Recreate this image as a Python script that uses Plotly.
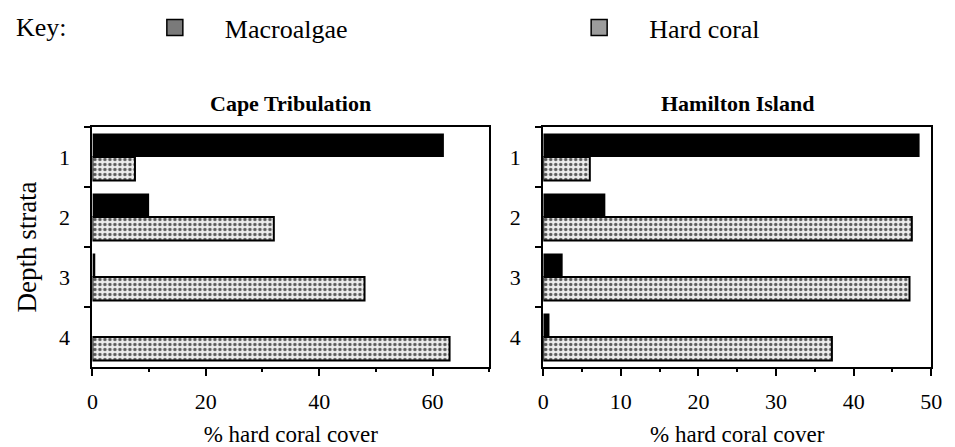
import plotly.graph_objects as go

# Depth strata (category labels, top to bottom)
depth_strata = ["1", "2", "3", "4"]

# Percent cover by site and stratum
cape_macroalgae = [62, 10, 0.5, 0]
cape_hard_coral = [7.5, 32, 48, 63]
hamilton_macroalgae = [48.5, 8, 2.5, 0.8]
hamilton_hard_coral = [6, 47.5, 47.2, 37.2]

site_titles = ["Cape Tribulation", "Hamilton Island"]
x_title = "% hard coral cover"
y_title = "Depth strata"

SERIF = "Liberation Serif"
INK = "black"

speckle = dict(shape=".", fgcolor="#5a5a5a", bgcolor="#ececec",
               size=5, solidity=0.35, fillmode="replace")

fig = go.Figure()


def add_site(macro, coral, xa, ya):
    fig.add_trace(go.Bar(
        y=depth_strata, x=macro, orientation="h", name="Macroalgae",
        marker=dict(color=INK, line=dict(width=0)),
        xaxis=xa, yaxis=ya, showlegend=False))
    fig.add_trace(go.Bar(
        y=depth_strata, x=coral, orientation="h", name="Hard coral",
        marker=dict(color="#ececec", pattern=speckle,
                    line=dict(color=INK, width=2)),
        xaxis=xa, yaxis=ya, showlegend=False))


add_site(cape_macroalgae, cape_hard_coral, "x", "y")
add_site(hamilton_macroalgae, hamilton_hard_coral, "x2", "y2")

# Key entries, one per legend box
fig.add_trace(go.Scatter(
    x=[None], y=[None], mode="markers", name="Macroalgae", legend="legend",
    marker=dict(symbol="square", size=16, color="#7a7a7a",
                line=dict(color=INK, width=1.5))))
fig.add_trace(go.Scatter(
    x=[None], y=[None], mode="markers", name="Hard coral", legend="legend2",
    marker=dict(symbol="square", size=16, color="#9c9c9c",
                line=dict(color=INK, width=1.5))))

W, H = 955, 447
left_dom = [88 / W, 492 / W]
right_dom = [547 / W, 942 / W]
y_dom = [(H - 367) / H, (H - 127) / H]

xaxis_common = dict(
    showline=True, linecolor=INK, linewidth=2, mirror=True,
    ticks="outside", ticklen=7, tickwidth=2, tickcolor=INK,
    showgrid=False, zeroline=False,
    tickfont=dict(family=SERIF, size=22, color=INK),
    ticklabelstandoff=7,
    title=dict(text=x_title, font=dict(family=SERIF, size=23, color=INK)),
)
yaxis_common = dict(
    type="category", categoryorder="array", categoryarray=depth_strata,
    autorange="reversed", domain=y_dom,
    showline=True, linecolor=INK, linewidth=2, mirror=True,
    ticks="outside", ticklen=6, tickwidth=2, tickcolor=INK,
    tickson="boundaries", showgrid=False, zeroline=False,
    tickfont=dict(family=SERIF, size=22, color=INK),
    ticklabelstandoff=16,
)

legend_common = dict(
    orientation="h", y=(H - 4) / H, xanchor="left", yanchor="top",
    xref="paper", yref="paper", itemwidth=90,
    font=dict(family=SERIF, size=26, color=INK),
    bgcolor="rgba(0,0,0,0)",
)

fig.update_layout(
    width=W, height=H,
    margin=dict(l=0, r=0, t=0, b=0),
    paper_bgcolor="white", plot_bgcolor="white",
    barmode="group", bargap=0.22, bargroupgap=0,
    font=dict(family=SERIF, color=INK),
    xaxis=dict(xaxis_common, domain=left_dom, anchor="y",
               range=[0, 70], dtick=20, tick0=0,
               minor=dict(dtick=10, ticks="outside", ticklen=3,
                          tickcolor=INK, tickwidth=1.5)),
    xaxis2=dict(xaxis_common, domain=right_dom, anchor="y2",
                range=[0, 50], dtick=10, tick0=0,
                minor=dict(dtick=5, ticks="outside", ticklen=3,
                           tickcolor=INK, tickwidth=1.5)),
    yaxis=dict(yaxis_common, anchor="x",
               title=dict(text=y_title,
                          font=dict(family=SERIF, size=27, color=INK))),
    yaxis2=dict(yaxis_common, anchor="x2"),
    showlegend=True,
    legend=dict(legend_common, x=121 / W),
    legend2=dict(legend_common, x=553 / W),
    annotations=[
        dict(text="Key:", x=8 / W, y=(H - 27) / H, xref="paper", yref="paper",
             xanchor="left", yanchor="middle", showarrow=False,
             font=dict(family=SERIF, size=26, color=INK)),
        dict(text="<b>%s</b>" % site_titles[0], x=sum(left_dom) / 2,
             y=(H - 103) / H, xref="paper", yref="paper",
             xanchor="center", yanchor="middle", showarrow=False,
             font=dict(family=SERIF, size=22, color=INK)),
        dict(text="<b>%s</b>" % site_titles[1], x=sum(right_dom) / 2,
             y=(H - 103) / H, xref="paper", yref="paper",
             xanchor="center", yanchor="middle", showarrow=False,
             font=dict(family=SERIF, size=22, color=INK)),
    ],
)

fig.write_html("out.html")
